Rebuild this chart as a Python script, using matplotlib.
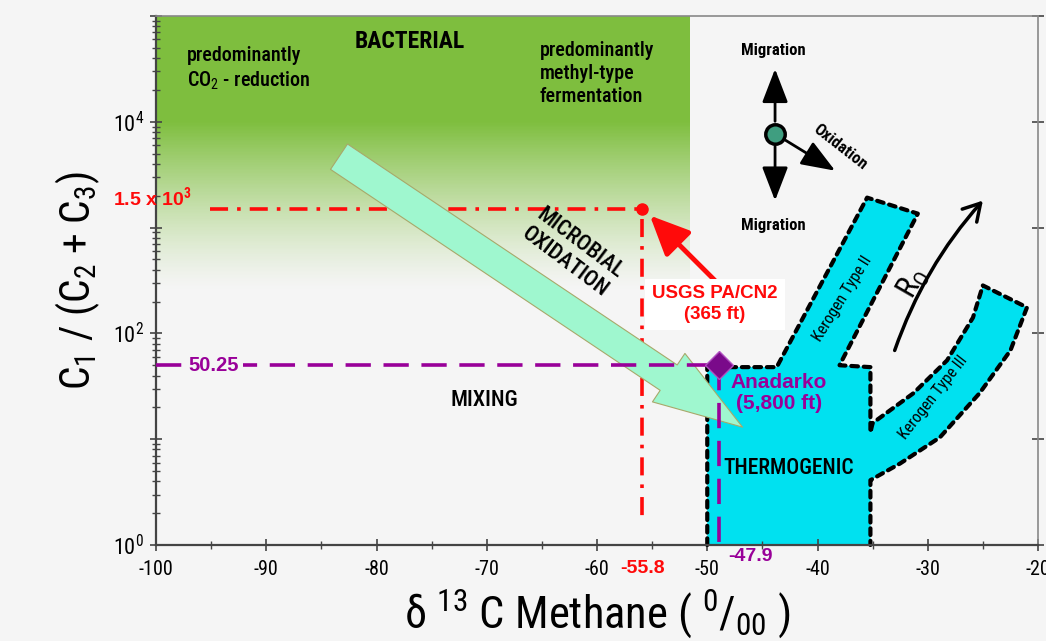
import numpy as np
import matplotlib
matplotlib.use("Agg")
import matplotlib.pyplot as plt
from matplotlib.patches import Polygon, FancyArrowPatch
from matplotlib.transforms import blended_transform_factory
import matplotlib.ticker as mticker

# ---------------- data ----------------
x_ticks = [-100, -90, -80, -70, -60, -50, -40, -30, -20]
y_label_decades = [0, 2, 4]

bacterial_xmax = -51.6          # right edge of bacterial field
green_full_log = 4.0            # solid green above 10^4
green_fade_log = 2.4            # fades out below this

usgs_d13c_drawn = -55.9
usgs_label = "-55.8"
usgs_ratio = 1.5e3
usgs_line_xstart = -95.1
usgs_vline_ymin = 1.7

anadarko_d13c_drawn = -48.9
anadarko_label = "-47.9"
anadarko_ratio = 50.25

# thermogenic field outline (d13C, C1/(C2+C3))
thermo_x = [-50.0, -50.0, -43.7, -35.5, -30.9, -38.0, -35.2, -35.2, -35.0, -31.3,
            -28.25, -25.9, -25.0, -21.0, -22.5, -25.3, -28.9, -32.5, -35.2, -35.2]
thermo_y = [1.0, 48, 48, 1920, 1355, 50, 48, 11.6, 14.2, 27.2,
            55.6, 141, 284, 176, 69, 27.2, 10.4, 5.9, 4.1, 1.0]

mix_arrow_start = (-83.4, 4680)
mix_arrow_end = (-46.8, 13.0)
red_arrow_start = (-49.3, 316)
red_arrow_end = (-55.2, 1300)

mig_center = (-43.85, 7700)
mig_up = (-43.85, 31600)
mig_down = (-43.85, 1800)
oxid_tip = (-38.4, 3450)

ro_start = (-33.0, 69)
ro_end = (-25.0, 1800)

BG = "#f5f5f5"
GREEN = np.array([126, 190, 62]) / 255.0
CYAN = "#00e1f0"
PURPLE = "#990099"
RED = "#ff0a0a"
COND = ["Roboto Condensed", "DejaVu Sans"]
ARIAL = ["Liberation Sans", "DejaVu Sans"]

plt.rcParams["axes.unicode_minus"] = False
plt.rcParams["font.family"] = COND
plt.rcParams["mathtext.fontset"] = "custom"
plt.rcParams["mathtext.rm"] = "Roboto Condensed"
plt.rcParams["mathtext.it"] = "Roboto Condensed"
plt.rcParams["mathtext.bf"] = "Roboto Condensed:bold"

fig = plt.figure(figsize=(10.46, 6.41), dpi=100, facecolor=BG)
ax = fig.add_axes([156 / 1046, 96 / 641, 882 / 1046, 529 / 641])
ax.set_facecolor(BG)
ax.set_yscale("log")
ax.set_xlim(-100, -20)
ax.set_ylim(1, 1e5)

# ---------------- bacterial field gradient ----------------
ly = np.linspace(green_fade_log, 5.0, 200)
frac = np.clip((ly - green_fade_log) / (green_full_log - green_fade_log), 0, 1) ** 1.3
bg = np.array([245, 245, 245]) / 255.0
cols = frac[:, None] * GREEN + (1 - frac[:, None]) * bg
yedges = 10 ** np.concatenate([[ly[0]], (ly[:-1] + ly[1:]) / 2, [ly[-1]]])
xedges = np.array([-100, bacterial_xmax])
for i in range(len(ly)):
    ax.fill_between(xedges, yedges[i], yedges[i + 1], color=cols[i], lw=0, zorder=0.5)

# ---------------- thermogenic field ----------------
poly = Polygon(np.column_stack([thermo_x, thermo_y]), closed=True,
               facecolor=CYAN, edgecolor="none", zorder=1)
ax.add_patch(poly)
ax.plot(thermo_x, thermo_y, color="black", lw=3, linestyle=(0, (1.6, 1.4)),
        dash_capstyle="round", zorder=2, clip_on=False)

# ---------------- red USGS lines ----------------
ax.plot([usgs_line_xstart, usgs_d13c_drawn], [usgs_ratio, usgs_ratio], color=RED, lw=2.6,
        linestyle=(0, (5, 2.5, 1, 2.5)), zorder=3)
ax.plot([usgs_d13c_drawn, usgs_d13c_drawn], [usgs_ratio * 0.8, usgs_vline_ymin], color=RED,
        lw=2.6, linestyle=(0, (5, 2.5, 1, 2.5)), zorder=3)
ax.plot([usgs_d13c_drawn], [usgs_ratio], "o", color=RED, ms=8, zorder=4)

# ---------------- mixing arrow ----------------
mix = FancyArrowPatch(mix_arrow_start, mix_arrow_end,
                      arrowstyle="simple,head_length=64,head_width=42,tail_width=22",
                      mutation_scale=1, shrinkA=0, shrinkB=0,
                      facecolor="#9ff7cf", edgecolor="#a8a86a", lw=0.8, zorder=3)
ax.add_patch(mix)

# ---------------- purple Anadarko lines ----------------
ax.plot([-100, anadarko_d13c_drawn], [anadarko_ratio, anadarko_ratio], color=PURPLE, lw=2.6,
        linestyle=(0, (7, 3.5)), zorder=4, clip_on=False)
ax.plot([anadarko_d13c_drawn, anadarko_d13c_drawn], [anadarko_ratio, 1], color=PURPLE, lw=2.6,
        linestyle=(0, (7, 3.5)), zorder=4, clip_on=False)
ax.plot([anadarko_d13c_drawn], [anadarko_ratio], marker="D", color="#7a0a8a", ms=14,
        mec="#b050c0", mew=1, zorder=5, clip_on=False)

# red arrow
ax.annotate("", xy=red_arrow_end, xytext=red_arrow_start,
            arrowprops=dict(arrowstyle="-|>,head_length=1.1,head_width=0.5", color=RED,
                            lw=3.5, mutation_scale=22, shrinkA=0, shrinkB=0), zorder=4)

# ---------------- migration diagram ----------------
for tip in (mig_up, mig_down, oxid_tip):
    ax.annotate("", xy=tip, xytext=mig_center,
                arrowprops=dict(arrowstyle="-|>,head_length=1.3,head_width=0.5", color="black",
                                lw=2, mutation_scale=16, shrinkA=9, shrinkB=0), zorder=4)
ax.plot([mig_center[0]], [mig_center[1]], "o", ms=14, mfc="#3f9e80", mec="black", mew=2.5, zorder=5)
ax.text(-44.0, 46800, "Migration", ha="center", va="center", fontsize=12, fontweight="bold")
ax.text(-44.0, 1045, "Migration", ha="center", va="center", fontsize=12, fontweight="bold")
ax.text(-37.96, 5810, "Oxidation", ha="center", va="center", fontsize=12, fontweight="bold",
        rotation=-38)

# Ro arrow
ax.annotate("", xy=ro_end, xytext=ro_start,
            arrowprops=dict(arrowstyle="->,head_length=0.6,head_width=0.35", color="black",
                            lw=2.5, mutation_scale=20, shrinkA=0, shrinkB=0,
                            connectionstyle="arc3,rad=-0.1"), zorder=4)
ax.text(-31.3, 297, r"R$_{\mathrm{O}}$", ha="center", va="center", fontsize=22, rotation=60)

# ---------------- region labels ----------------
ax.text(-77.0, 57900, "BACTERIAL", ha="center", va="center", fontsize=17, fontweight="bold")
ax.text(-97.2, 52000, "predominantly\nCO$_2$ - reduction", ha="left", va="top", fontsize=14.5,
        fontweight="medium", linespacing=1.25)
ax.text(-65.2, 58000, "predominantly\nmethyl-type\nfermentation", ha="left", va="top",
        fontsize=14.5, fontweight="medium", linespacing=1.25)
ax.text(-62.2, 581, "MICROBIAL\nOXIDATION", ha="center", va="center", fontsize=16,
        rotation=-37, linespacing=1.1, fontweight="medium")
ax.text(-70.2, 23.3, "MIXING", ha="center", va="center", fontsize=16, fontweight="medium")
ax.text(-42.6, 5.3, "THERMOGENIC", ha="center", va="center", fontsize=15.5, fontweight="medium")
ax.text(-37.78, 214, "Kerogen Type II", ha="center", va="center", fontsize=11.5, rotation=58)
ax.text(-29.5, 24.9, "Kerogen Type III", ha="center", va="center", fontsize=11.5, rotation=52)

# data labels
ax.text(-49.3, 188, "USGS PA/CN2\n(365 ft)", ha="center", va="center", color=RED,
        fontsize=13.5, fontweight="bold", family=ARIAL, linespacing=1.3,
        bbox=dict(facecolor="white", edgecolor="none", pad=5), zorder=6)
ax.text(-43.5, 27.2, "Anadarko\n(5,800 ft)", ha="center", va="center", color=PURPLE,
        fontsize=15, fontweight="bold", family=ARIAL, linespacing=1.15, zorder=6)
ax.text(-103.9, 1950, "1.5 x 10$^{\\mathbf{3}}$", ha="left", va="center", color=RED, fontsize=14,
        fontweight="bold", family=ARIAL, clip_on=False, zorder=6)
ax.text(-97.1, anadarko_ratio, "50.25", ha="left", va="center", color=PURPLE, fontsize=14.5,
        fontweight="bold", family=ARIAL, zorder=6,
        bbox=dict(facecolor=BG, edgecolor="none", pad=3))

tr = blended_transform_factory(ax.transData, ax.transAxes)
ax.text(usgs_d13c_drawn, -0.045, usgs_label, transform=tr, ha="center", va="center", color=RED,
        fontsize=14, fontweight="bold", family=ARIAL)
ax.text(-46.1, -0.022, anadarko_label, transform=tr, ha="center", va="center", color=PURPLE,
        fontsize=14, fontweight="bold", family=ARIAL)

# ---------------- axes / ticks ----------------
ax.xaxis.set_major_locator(mticker.FixedLocator(x_ticks))
ax.xaxis.set_minor_locator(mticker.MultipleLocator(5))
ax.set_xticklabels([str(v) for v in x_ticks])
ax.yaxis.set_major_locator(mticker.FixedLocator([10.0 ** k for k in range(6)]))
ax.yaxis.set_minor_locator(mticker.LogLocator(base=10, subs=np.arange(2, 10), numticks=20))
ax.yaxis.set_major_formatter(mticker.FuncFormatter(
    lambda v, p: (r"$10^{%d}$" % round(np.log10(v))) if round(np.log10(v)) in y_label_decades else ""))
ax.yaxis.set_minor_formatter(mticker.NullFormatter())
ax.tick_params(which="major", direction="inout", length=9, width=1.2, labelsize=14.5,
               color="#444444", pad=6)
ax.tick_params(axis="y", which="major", labelsize=16, pad=4)
ax.tick_params(which="minor", direction="inout", length=6, width=1.0, color="#444444")
ax.tick_params(axis="y", which="major", right=True)
for s in ["left", "bottom"]:
    ax.spines[s].set_color("#444444")
    ax.spines[s].set_linewidth(1.6)
for s in ["top", "right"]:
    ax.spines[s].set_color("#888888")
    ax.spines[s].set_linewidth(1.2)

ax.set_ylabel("C$_1$ / (C$_2$ + C$_3$)", fontsize=30, labelpad=8)
ax.set_xlabel(r"δ $^{13}$ C Methane ( $^0$/$_{00}$ )", fontsize=32, labelpad=6)

fig.savefig("out.png", dpi=100, facecolor=BG)
